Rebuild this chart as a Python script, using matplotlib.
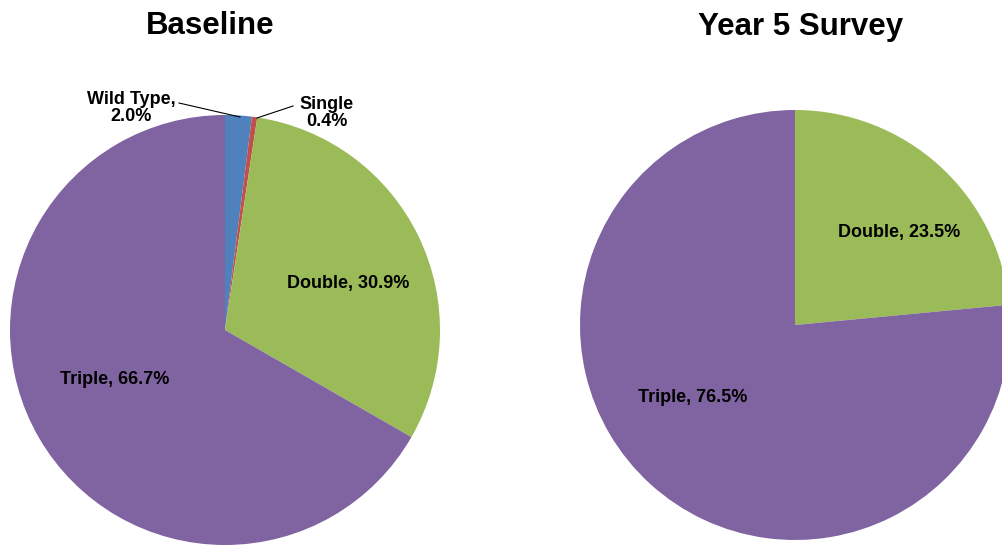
import matplotlib.pyplot as plt

# data
baseline_labels = ['Wild Type', 'Single', 'Double', 'Triple']
baseline_values = [2.0, 0.4, 30.9, 66.7]
baseline_colors = ['#4F81BD', '#C0504D', '#9BBB59', '#8064A2']

year5_labels = ['Double', 'Triple']
year5_values = [23.5, 76.5]
year5_colors = ['#9BBB59', '#8064A2']

W, H = 1003, 546
plt.rcParams['font.family'] = ['Liberation Sans', 'DejaVu Sans']

fig = plt.figure(figsize=(W / 100, H / 100), dpi=100)
ax = fig.add_axes([0, 0, 1, 1])

def py(y):
    # pixel row (top-down) -> axes y (bottom-up)
    return H - y

R = 215
ax.pie(baseline_values, colors=baseline_colors, startangle=90, counterclock=False,
       center=(225, py(330)), radius=R, wedgeprops=dict(linewidth=0))
ax.pie(year5_values, colors=year5_colors, startangle=90, counterclock=False,
       center=(795, py(325)), radius=R, wedgeprops=dict(linewidth=0))

ax.set_xlim(0, W)
ax.set_ylim(0, H)
ax.set_aspect('equal')
ax.axis('off')

lab = dict(fontsize=13, fontweight='bold', ha='center', va='center')

def pct(v):
    return f'{v:.1f}%'

# baseline labels
ax.text(131, py(108), f'{baseline_labels[0]},\n{pct(baseline_values[0])}', linespacing=0.95, **lab)
ax.text(327, py(113), f'{baseline_labels[1]}\n{pct(baseline_values[1])}', linespacing=0.95, **lab)
ax.text(348, py(283), f'{baseline_labels[2]}, {pct(baseline_values[2])}', **lab)
ax.text(115, py(380), f'{baseline_labels[3]}, {pct(baseline_values[3])}', **lab)
ax.plot([179, 240], [py(103), py(117)], color='black', lw=0.8)
ax.plot([293, 257], [py(106), py(118)], color='black', lw=0.8)

# year 5 labels
ax.text(899, py(232), f'{year5_labels[0]}, {pct(year5_values[0])}', **lab)
ax.text(693, py(398), f'{year5_labels[1]}, {pct(year5_values[1])}', **lab)

ax.text(210, py(26), 'Baseline', fontsize=22.5, fontweight='bold', ha='center', va='center')
ax.text(801, py(27), 'Year 5 Survey', fontsize=22.5, fontweight='bold', ha='center', va='center')

fig.savefig('out.png', dpi=100)
